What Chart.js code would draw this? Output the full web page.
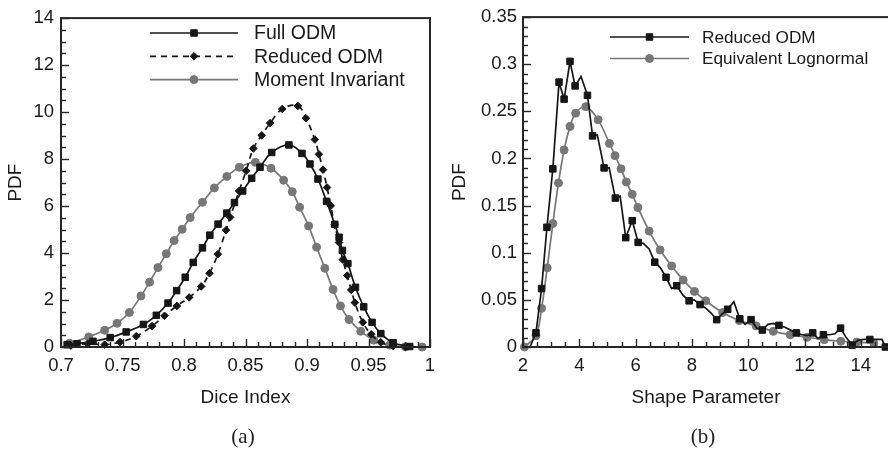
<!DOCTYPE html>
<html>
<head>
<meta charset="utf-8">
<script src="https://cdn.jsdelivr.net/npm/chart.js@4.4.1/dist/chart.umd.min.js"></script>
<style>
  html, body { margin: 0; padding: 0; background: #fff; width: 888px; height: 452px; overflow: hidden; }
  #wrapA { position: absolute; left: 0; top: 0; width: 444px; height: 452px; }
  #wrapB { position: absolute; left: 444px; top: 0; width: 444px; height: 452px; overflow: hidden; }
  .cap { position: absolute; top: 424px; width: 60px; text-align: center;
         font-family: "Liberation Serif", "DejaVu Serif", serif; font-size: 21px; color: #222; }
</style>
</head>
<body>
<div id="wrapA"><canvas id="chartA" width="444" height="452"></canvas></div>
<div id="wrapB"><canvas id="chartB" width="460" height="452"></canvas></div>
<div class="cap" style="left:213px">(a)</div>
<div class="cap" style="left:673px">(b)</div>
<script>
// ---- panel (a): Dice Index ----
const diceTicks = [0.7, 0.75, 0.8, 0.85, 0.9, 0.95, 1];
const pdfTicksA = [0, 2, 4, 6, 8, 10, 12, 14];

const fullOdmX = [0.705, 0.713, 0.726, 0.740, 0.753, 0.767, 0.7775, 0.787, 0.794, 0.801, 0.8075, 0.815, 0.821, 0.8277, 0.8348, 0.841, 0.8477, 0.855, 0.8618, 0.8713, 0.8853, 0.8959, 0.9024, 0.9089, 0.9159, 0.9226, 0.9261, 0.9288, 0.9332, 0.9394, 0.9461, 0.9529, 0.960, 0.970, 0.9835];
const fullOdmY = [0.10, 0.14, 0.24, 0.40, 0.64, 0.96, 1.35, 1.87, 2.40, 2.97, 3.60, 4.22, 4.76, 5.23, 5.70, 6.15, 6.64, 7.18, 7.65, 8.28, 8.60, 8.24, 7.79, 7.15, 6.20, 5.22, 4.67, 4.11, 3.55, 2.54, 1.71, 1.05, 0.57, 0.18, 0.02];

const redOdmAX = [0.708, 0.7217, 0.7355, 0.748, 0.7612, 0.774, 0.7842, 0.7942, 0.8042, 0.814, 0.8207, 0.8275, 0.8342, 0.8375, 0.8448, 0.8505, 0.8564, 0.8632, 0.870, 0.8799, 0.8926, 0.8991, 0.9064, 0.9097, 0.913, 0.9163, 0.9193, 0.9225, 0.926, 0.9291, 0.9327, 0.936, 0.9389, 0.9454, 0.9522, 0.960, 0.970, 0.980];
const redOdmAY = [0.06, 0.14, 0.10, 0.21, 0.46, 0.89, 1.33, 1.75, 2.11, 2.58, 3.14, 3.95, 4.97, 5.52, 6.64, 7.50, 8.45, 9.01, 9.53, 10.13, 10.26, 9.74, 8.83, 8.20, 7.55, 6.79, 6.01, 5.20, 4.45, 3.72, 3.04, 2.43, 1.89, 1.05, 0.54, 0.20, 0.04, 0.0];

const momentX = [0.707, 0.7226, 0.7355, 0.7456, 0.7556, 0.765, 0.772, 0.7788, 0.7856, 0.792, 0.7985, 0.805, 0.815, 0.8247, 0.8348, 0.845, 0.858, 0.8707, 0.881, 0.888, 0.894, 0.9013, 0.9078, 0.9145, 0.9212, 0.9272, 0.9342, 0.9437, 0.9543, 0.9672, 0.980, 0.9937];
const momentY = [0.16, 0.43, 0.71, 1.01, 1.47, 2.17, 2.76, 3.38, 3.97, 4.53, 5.01, 5.51, 6.16, 6.77, 7.26, 7.65, 7.86, 7.61, 7.10, 6.61, 5.95, 5.15, 4.25, 3.35, 2.45, 1.75, 1.17, 0.67, 0.29, 0.08, 0.01, 0.0];

// ---- panel (b): Shape Parameter ----
const shapeTicks = [2, 4, 6, 8, 10, 12, 14];
const pdfTicksB = [0, 0.05, 0.1, 0.15, 0.2, 0.25, 0.3, 0.35];

const redOdmBX = [2.25, 2.46, 2.66, 2.85, 3.06, 3.28, 3.46, 3.67, 3.85, 4.06, 4.29, 4.47, 4.64, 4.88, 5.06, 5.28, 5.45, 5.65, 5.88, 6.09, 6.27, 6.48, 6.68, 6.88, 7.08, 7.28, 7.46, 7.68, 7.90, 8.08, 8.29, 8.50, 8.68, 8.88, 9.07, 9.27, 9.49, 9.70, 9.89, 10.10, 10.30, 10.50, 10.70, 10.89, 11.09, 11.30, 11.50, 11.71, 11.90, 12.10, 12.29, 12.48, 12.67, 12.88, 13.08, 13.28, 13.48, 13.69, 13.90, 14.10, 14.32, 14.55, 14.75, 14.87];
const redOdmBY = [0.000, 0.015, 0.062, 0.127, 0.189, 0.281, 0.263, 0.303, 0.277, 0.287, 0.267, 0.224, 0.225, 0.190, 0.190, 0.158, 0.160, 0.116, 0.134, 0.111, 0.110, 0.104, 0.090, 0.084, 0.074, 0.062, 0.065, 0.055, 0.049, 0.050, 0.045, 0.041, 0.036, 0.029, 0.035, 0.040, 0.048, 0.030, 0.024, 0.029, 0.020, 0.018, 0.024, 0.025, 0.023, 0.021, 0.018, 0.015, 0.013, 0.012, 0.015, 0.009, 0.013, 0.013, 0.014, 0.020, 0.010, 0.002, 0.007, 0.008, 0.008, 0.008, 0.008, 0.000];
// which samples carry a symbol (1) and which are plain line vertices (0)
const redOdmBSym = [0,1,1,1,1,1,1,1,1,0, 1,1,0,1,0,1,0,1,1,1, 0,0,1,0,1,0,1,0,1,0, 1,0,0,1,0,1,0,1,0,1, 0,1,0,0,1,0,0,1,0,0, 1,0,1,0,0,1,0,1,0,0, 1,0,0,1];

const lognX = [2.05, 2.46, 2.66, 2.86, 3.06, 3.26, 3.46, 3.67, 3.87, 4.23, 4.67, 5.07, 5.27, 5.48, 5.67, 5.88, 6.08, 6.48, 6.87, 7.28, 7.69, 8.09, 8.49, 9.09, 9.68, 10.28, 10.89, 11.49, 12.09, 12.70, 13.29, 13.86, 14.46];
const lognY = [0.000, 0.012, 0.041, 0.084, 0.131, 0.174, 0.209, 0.234, 0.248, 0.255, 0.241, 0.216, 0.203, 0.189, 0.175, 0.162, 0.148, 0.123, 0.103, 0.086, 0.071, 0.059, 0.049, 0.0365, 0.028, 0.0224, 0.0166, 0.013, 0.0103, 0.0078, 0.0061, 0.0052, 0.0040];

const BLACK = '#161616';
const GREY = '#777777';
const AXIS = '#262626';
const SANS = '"Liberation Sans", Arial, sans-serif';

const pts = (xs, ys) => xs.map((x, i) => ({ x: x, y: ys[i] }));

// symbols drawn in the legend, same look as the series
const SYM = {
  square: { pointStyle: 'rect', radius: 4.6 },
  diamond: { pointStyle: 'rectRot', radius: 3.8 },
  circle: { pointStyle: 'circle', radius: 4 }
};

function series(label, xs, ys, color, sym, extra) {
  return Object.assign({
    label: label,
    data: pts(xs, ys),
    borderColor: color,
    backgroundColor: color,
    pointBackgroundColor: color,
    pointBorderColor: color,
    borderWidth: 1.7,
    pointBorderWidth: 1,
    pointStyle: SYM[sym].pointStyle,
    pointRadius: SYM[sym].radius,
    sym: sym,
    clip: false
  }, extra || {});
}

// inward ticks + frame, drawn over the data like the original plotting tool
const framePlugin = {
  id: 'frame',
  afterDatasetsDraw(chart, args, o) {
    const { ctx, chartArea: a, scales: { x, y } } = chart;
    ctx.save();
    ctx.strokeStyle = AXIS;
    ctx.lineWidth = 1.4;
    const isMajor = (list, v) => list.some(t => Math.abs(t - v) < 1e-9);
    const nx = Math.round((x.max - x.min) / o.xMinor);
    for (let i = 0; i <= nx; i++) {
      const v = x.min + i * o.xMinor;
      const px = Math.round(x.getPixelForValue(v)) + 0.5;
      const len = isMajor(o.xMajor, v) ? 8 : 5;
      ctx.beginPath(); ctx.moveTo(px, a.bottom); ctx.lineTo(px, a.bottom - len); ctx.stroke();
    }
    const ny = Math.round((y.max - y.min) / o.yMinor);
    for (let i = 0; i <= ny; i++) {
      const v = y.min + i * o.yMinor;
      const py = Math.round(y.getPixelForValue(v)) + 0.5;
      const len = isMajor(o.yMajor, v) ? 8 : 5;
      ctx.beginPath(); ctx.moveTo(a.left, py); ctx.lineTo(a.left + len, py); ctx.stroke();
    }
    ctx.lineWidth = 2;
    ctx.strokeRect(a.left, a.top, a.right - a.left, a.bottom - a.top);
    ctx.restore();
  }
};

// legend with a line sample and the symbol in its middle
const lineLegend = {
  id: 'lineLegend',
  afterDraw(chart, args, o) {
    const ctx = chart.ctx;
    ctx.save();
    chart.data.datasets.forEach((ds, i) => {
      const y = o.y + i * o.dy;
      ctx.strokeStyle = ds.borderColor;
      ctx.lineWidth = ds.borderWidth;
      ctx.setLineDash(ds.borderDash || []);
      ctx.beginPath(); ctx.moveTo(o.x1, y); ctx.lineTo(o.x2, y); ctx.stroke();
      ctx.setLineDash([]);
      ctx.fillStyle = ds.pointBackgroundColor;
      ctx.lineWidth = 1;
      Chart.helpers.drawPoint(ctx, { pointStyle: SYM[ds.sym].pointStyle, radius: SYM[ds.sym].radius, rotation: 0, borderWidth: 1 }, (o.x1 + o.x2) / 2, y);
      ctx.fillStyle = '#1a1a1a';
      ctx.font = o.fontSize + 'px ' + SANS;
      ctx.textAlign = 'left';
      ctx.textBaseline = 'middle';
      ctx.fillText(ds.label, o.textX, y + 1);
    });
    ctx.restore();
  }
};

function pdfChart(id, cfg) {
  const tickFont = { family: SANS, size: 18.5 };
  const titleFont = { family: SANS, size: 19 };
  return new Chart(document.getElementById(id), {
    type: 'line',
    data: { datasets: cfg.datasets },
    options: {
      responsive: false,
      animation: false,
      events: [],
      layout: { padding: cfg.padding },
      scales: {
        x: {
          type: 'linear', min: cfg.xMin, max: cfg.xMax,
          afterBuildTicks: s => { s.ticks = cfg.xTicks.map(v => ({ value: v })); },
          afterFit: s => { s.height = 62; },
          grid: { display: false, drawTicks: false },
          border: { display: false },
          ticks: { color: '#1a1a1a', font: tickFont, padding: 8, maxRotation: 0, autoSkip: false, callback: v => String(v) },
          title: { display: true, text: cfg.xTitle, color: '#1a1a1a', font: titleFont, padding: 0 }
        },
        y: {
          type: 'linear', min: cfg.yMin, max: cfg.yMax,
          afterBuildTicks: s => { s.ticks = cfg.yTicks.map(v => ({ value: v })); },
          afterFit: s => { s.width = cfg.yWidth; },
          grid: { display: false, drawTicks: false },
          border: { display: false },
          ticks: { color: '#1a1a1a', font: tickFont, padding: cfg.yPad, autoSkip: false, callback: v => String(v) },
          title: { display: true, text: 'PDF', color: '#1a1a1a', font: titleFont, padding: { top: 4, bottom: 0 } }
        }
      },
      plugins: {
        legend: { display: false },
        tooltip: { enabled: false },
        frame: cfg.frame,
        lineLegend: cfg.legend
      }
    },
    plugins: [framePlugin, lineLegend]
  });
}

pdfChart('chartA', {
  datasets: [
    series('Full ODM', fullOdmX, fullOdmY, BLACK, 'square', { tension: 0.4 }),
    series('Reduced ODM', redOdmAX, redOdmAY, BLACK, 'diamond', { tension: 0.4, borderDash: [6, 5] }),
    series('Moment Invariant', momentX, momentY, GREY, 'circle', { tension: 0.4 })
  ],
  xMin: 0.7, xMax: 1, xTicks: diceTicks, xTitle: 'Dice Index',
  yMin: 0, yMax: 14, yTicks: pdfTicksA, yWidth: 61, yPad: 7,
  padding: { left: 0, right: 14, top: 11, bottom: 43 },
  frame: { xMinor: 0.01, yMinor: 0.5, xMajor: diceTicks, yMajor: pdfTicksA },
  legend: { x1: 150, x2: 238, y: 33, dy: 23.3, textX: 254, fontSize: 19.5 }
});

pdfChart('chartB', {
  datasets: [
    series('Reduced ODM', redOdmBX, redOdmBY, BLACK, 'square', {
      tension: 0,
      pointRadius: c => redOdmBSym[c.dataIndex] ? SYM.square.radius : 0
    }),
    series('Equivalent Lognormal', lognX, lognY, GREY, 'circle', { tension: 0.35 })
  ],
  xMin: 2, xMax: 15, xTicks: shapeTicks, xTitle: 'Shape Parameter',
  yMin: 0, yMax: 0.35, yTicks: pdfTicksB, yWidth: 79, yPad: 6,
  padding: { left: 0, right: 15, top: 11, bottom: 43 },
  frame: { xMinor: 0.5, yMinor: 0.01, xMajor: shapeTicks, yMajor: pdfTicksB },
  legend: { x1: 166, x2: 245, y: 37, dy: 21.5, textX: 258, fontSize: 17.2 }
});
</script>
</body>
</html>
